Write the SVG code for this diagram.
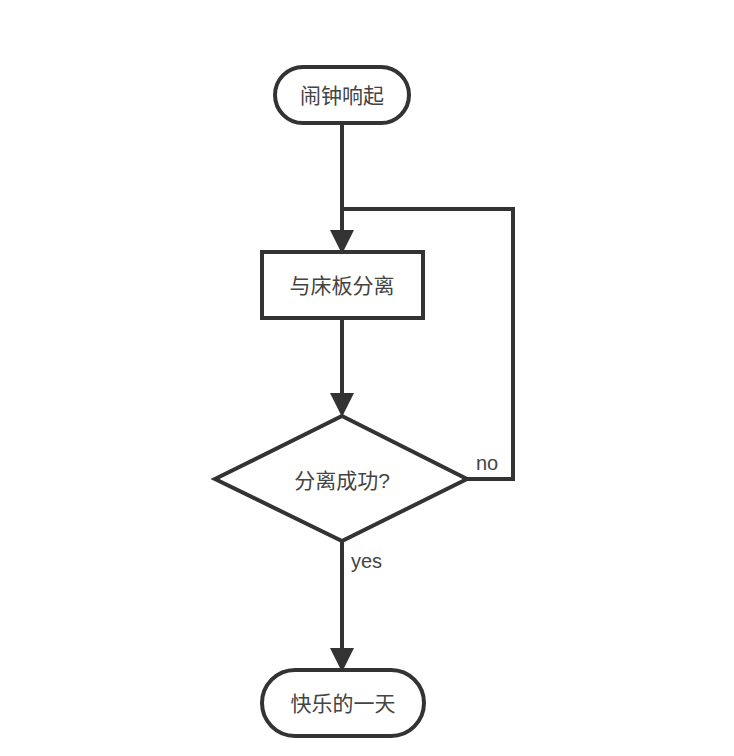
<svg xmlns="http://www.w3.org/2000/svg" width="734" height="756" viewBox="0 0 734 756">
<style>
.shape{fill:#fff;stroke:#333;stroke-width:4}
.line{fill:none;stroke:#333;stroke-width:4}
.t{font-family:"Liberation Sans","Noto Sans CJK SC",sans-serif;font-size:21px;fill:#444;text-anchor:middle;dominant-baseline:central}
.lbl{font-family:"Liberation Sans","Noto Sans CJK SC",sans-serif;font-size:20px;fill:#444}
</style>
<defs>
<marker id="arr" markerWidth="6" markerHeight="6" refX="5" refY="3" orient="auto" markerUnits="strokeWidth">
<path d="M0,0 L6,3 L0,6 Z" fill="#333"/>
</marker>
</defs>
<rect width="734" height="756" fill="#fff"/>
<g id="connectors">
<path class="line" d="M342,123 V250" marker-end="url(#arr)"/>
<path class="line" d="M466,479 H513 V209 H342"/>
<path class="line" d="M342,318 V413" marker-end="url(#arr)"/>
<path class="line" d="M342,541 V668" marker-end="url(#arr)"/>
<text class="lbl" x="476" y="470">no</text>
<text class="lbl" x="351" y="568">yes</text>
</g>
<g id="start">
<rect class="shape" x="275" y="67" width="134" height="56" rx="28"/>
<text class="t" x="342" y="95">闹钟响起</text>
</g>
<g id="separate">
<rect class="shape" x="262" y="252" width="161" height="66"/>
<text class="t" x="342" y="285">与床板分离</text>
</g>
<g id="decision">
<polygon class="shape" points="342,416 467,479 342,541 215,479"/>
<text class="t" x="342" y="480">分离成功?</text>
</g>
<g id="end">
<rect class="shape" x="262" y="670" width="162" height="66" rx="33"/>
<text class="t" x="343" y="703">快乐的一天</text>
</g>
</svg>
